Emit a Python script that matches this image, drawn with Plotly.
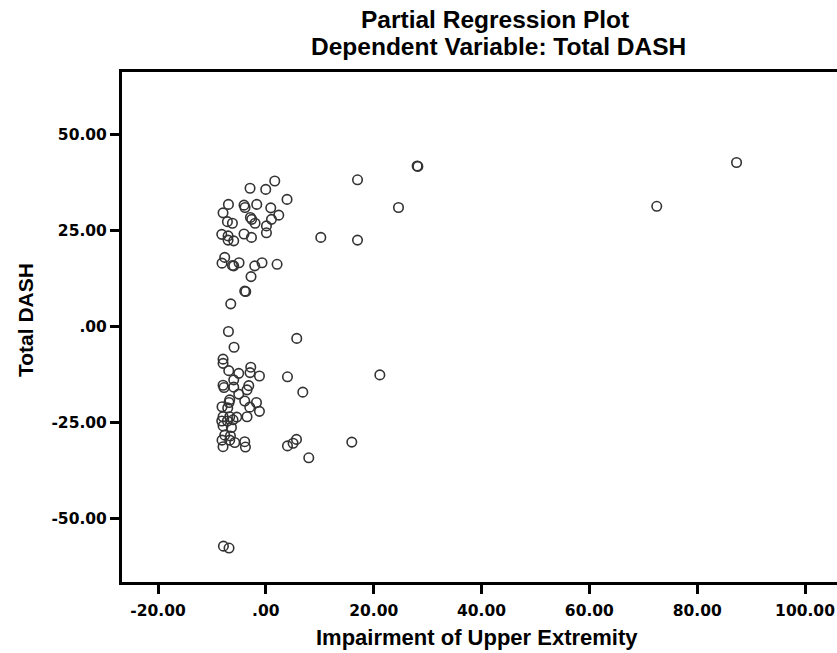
import plotly.graph_objects as go

# Data
impairment = [
    1.65, -2.93, -0.02, 3.93, -6.94, -4.05, -3.86, -1.69, -7.94, 0.91,
    2.39, -2.86, -2.62, 1.04, -7.13, -6.20, -2.00, 0.11, 0.11, -8.18,
    -7.01, -4.05, -2.67, -7.01, -5.96, 10.19, -7.63, -8.13, -6.20, -5.96,
    -4.97, -2.06, -0.71, 2.08, -2.75, -3.92, -3.73, -6.51,
    -6.94, 5.73, -5.90, -7.94, -7.94, -6.88, -2.80, -2.93, -5.03, -1.19,
    -5.96, 4.01, -7.94, -7.76, -5.96, -3.17, -3.49, -5.03, 6.85, -6.70,
    -6.83, -3.92, -1.74, -8.13, -7.07, -2.99, -1.19, -7.94, -6.70, -5.40,
    -3.49, -8.18, -7.13, -6.09, -7.94, -6.38, -7.63, -6.57, -8.13, -6.70,
    -5.77, -3.92, -3.79, -7.94, 4.01, 5.05, 5.68, 7.96, -7.87, -6.83,
    28.06, 28.19, 17.00, 24.60, 17.00, 21.14, 15.94, 87.30, 72.50,
]
total_dash = [
    37.9, 36.0, 35.7, 33.1, 31.8, 31.6, 31.0, 31.8, 29.6, 30.9,
    29.0, 28.4, 27.9, 27.9, 27.3, 26.9, 26.9, 26.2, 24.4, 24.0,
    23.6, 24.1, 23.2, 22.5, 22.3, 23.2, 18.0, 16.5, 15.9, 15.8,
    16.6, 15.8, 16.6, 16.2, 13.0, 9.2, 9.1, 5.9,
    -1.3, -3.1, -5.4, -8.5, -9.6, -11.5, -10.6, -12.0, -12.2, -12.9,
    -13.9, -13.1, -15.3, -15.9, -15.8, -15.4, -16.5, -17.6, -17.1, -19.1,
    -19.8, -19.4, -19.8, -20.9, -21.2, -21.0, -22.1, -23.5, -23.5, -23.6,
    -23.5, -24.6, -24.6, -24.3, -25.9, -26.3, -28.3, -28.5, -29.6, -29.6,
    -30.2, -30.0, -31.4, -31.3, -31.1, -30.4, -29.4, -34.2, -57.2, -57.7,
    41.8, 41.7, 38.2, 31.0, 22.5, -12.6, -30.1, 42.7, 31.3,
]

x_ticks = [-20, 0, 20, 40, 60, 80, 100]
x_tick_labels = ["-20.00", ".00", "20.00", "40.00", "60.00", "80.00", "100.00"]
y_ticks = [-50, -25, 0, 25, 50]
y_tick_labels = ["-50.00", "-25.00", ".00", "25.00", "50.00"]

title_line1 = "Partial Regression Plot"
title_line2 = "Dependent Variable: Total DASH"
x_title = "Impairment of Upper Extremity"
y_title = "Total DASH"

# Body margin is removed by a post script, so figure pixels equal page pixels.
W, H = 837, 653
L, R, T, B = 122, 0, 72, 71
pw, ph = W - L - R, H - T - B


def px(xp):
    return (xp - L) / pw


def py(yp):
    return (H - B - yp) / ph


fig = go.Figure()
fig.add_trace(go.Scatter(
    x=impairment, y=total_dash, mode="markers",
    marker=dict(symbol="circle-open", size=9.5, color="#333333",
                line=dict(width=1.6, color="#333333")),
    hoverinfo="x+y", showlegend=False,
))

tick_font = dict(family="DejaVu Sans", size=15.5, color="black", weight=700)
title_font = dict(family="Liberation Sans, Arial", size=24.5, color="black", weight=700)
x_title_font = dict(family="Liberation Sans, Arial", size=22, color="black", weight=700)
y_title_font = dict(family="Liberation Sans, Arial", size=21, color="black", weight=700)

fig.update_layout(
    width=W, height=H,
    margin=dict(l=L, r=R, t=T, b=B, pad=0),
    paper_bgcolor="white", plot_bgcolor="white",
    xaxis=dict(
        range=[-26.68, 105.93], showgrid=False, zeroline=False,
        showline=True, linewidth=3, linecolor="black", mirror=True,
        ticks="outside", ticklen=9, tickwidth=3, tickcolor="black",
        tickvals=x_ticks, ticktext=x_tick_labels, tickfont=tick_font,
        ticklabelstandoff=3,
    ),
    yaxis=dict(
        range=[-66.54, 66.28], showgrid=False, zeroline=False,
        showline=True, linewidth=3, linecolor="black", mirror=False,
        ticks="outside", ticklen=9, tickwidth=3, tickcolor="black",
        tickvals=y_ticks, ticktext=y_tick_labels, tickfont=tick_font,
    ),
    annotations=[
        dict(text=title_line1, xref="paper", yref="paper", x=px(495), y=py(20),
             xanchor="center", yanchor="middle", showarrow=False, font=title_font),
        dict(text=title_line2, xref="paper", yref="paper", x=px(499), y=py(47),
             xanchor="center", yanchor="middle", showarrow=False, font=title_font),
        dict(text=x_title, xref="paper", yref="paper", x=px(477), y=py(637),
             xanchor="center", yanchor="middle", showarrow=False, font=x_title_font),
        dict(text=y_title, xref="paper", yref="paper", x=px(25), y=py(320),
             xanchor="center", yanchor="middle", showarrow=False, textangle=-90,
             font=y_title_font),
    ],
)

fig.write_html(
    "out.html",
    config={"displayModeBar": False},
    post_script="document.body.style.margin='0';document.body.style.overflow='hidden';",
)
